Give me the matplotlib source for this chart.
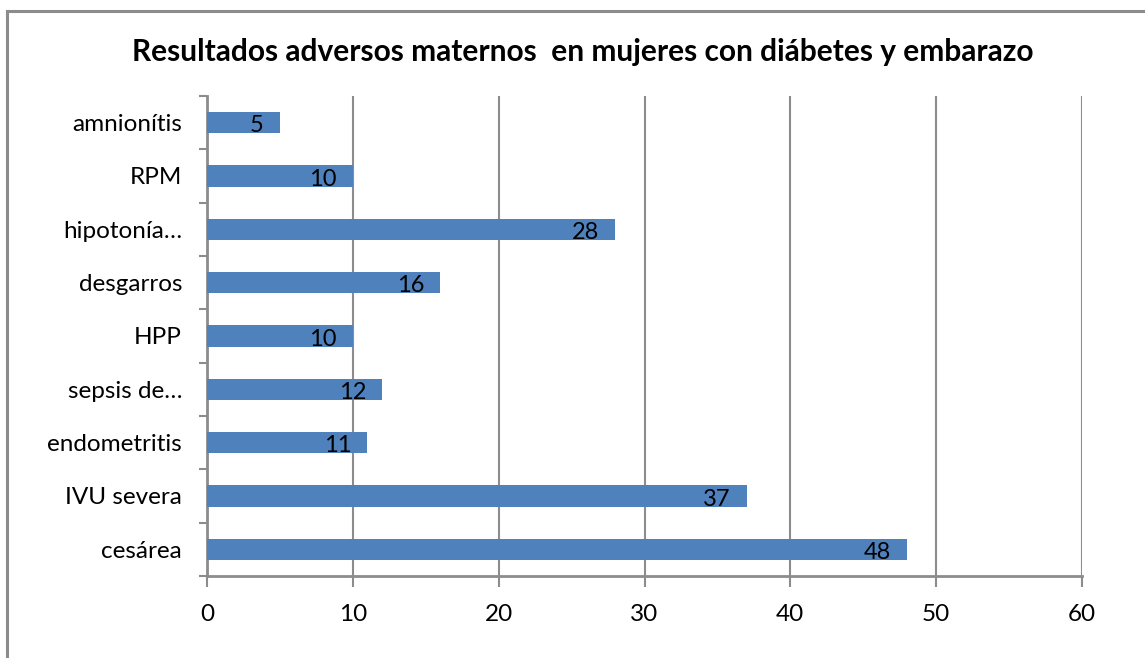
import matplotlib.pyplot as plt
from matplotlib.lines import Line2D

categories = ['cesárea', 'IVU severa', 'endometritis', 'sepsis de…', 'HPP',
              'desgarros', 'hipotonía…', 'RPM', 'amnionítis']
values = [48, 37, 11, 12, 10, 16, 28, 10, 5]
xticks = [0, 10, 20, 30, 40, 50, 60]
title = 'Resultados adversos maternos  en mujeres con diábetes y embarazo'

plt.rcParams['font.family'] = ['Lato', 'DejaVu Sans']
W, H = 1145, 658
fig = plt.figure(figsize=(W / 100, H / 100), dpi=100)
ax = fig.add_axes([207 / W, 1 - 576 / H, 875 / W, 480 / H])

# frame lines of the chart area (only top and left visible)
grey = '#8c8c8c'
fig.add_artist(Line2D([7 / W, 1], [1 - 11 / H] * 2, color=grey, lw=2.2,
                      transform=fig.transFigure))
fig.add_artist(Line2D([7 / W] * 2, [0, 1 - 11 / H], color=grey, lw=2.2,
                      transform=fig.transFigure))

pos = list(range(len(categories)))
bars = ax.barh(pos, values, height=0.4, color='#4F81BD', zorder=3)
for b, v in zip(bars, values):
    ax.annotate(str(v), (b.get_width(), b.get_y() + b.get_height() / 2),
                xytext=(-16, -3), textcoords='offset pixels',
                ha='right', va='center', fontsize=17, zorder=4)

ax.set_xlim(0, 60)
ax.set_ylim(-0.5, len(categories) - 0.5)
ax.set_xticks(xticks)
ax.set_xticklabels([str(t) for t in xticks], fontsize=17.5)
ax.set_yticks(pos)
ax.set_yticklabels(categories, fontsize=17.5)
ax.tick_params(axis='y', length=0, pad=18)
ax.set_yticks([p - 0.5 for p in pos] + [len(pos) - 0.5], minor=True)
ax.tick_params(axis='y', which='minor', length=6, color=grey, width=1.5)
ax.tick_params(axis='x', length=8, color=grey, width=1.5, pad=12)
ax.grid(axis='x', color=grey, lw=1.5, zorder=0)
for s in ['top', 'right']:
    ax.spines[s].set_visible(False)
for s in ['left', 'bottom']:
    ax.spines[s].set_color(grey)
    ax.spines[s].set_linewidth(2)

fig.text(583 / W, 1 - 52 / H, title, ha='center', va='center',
         fontsize=21.5, fontweight='bold')

fig.savefig('out.png', dpi=100)
